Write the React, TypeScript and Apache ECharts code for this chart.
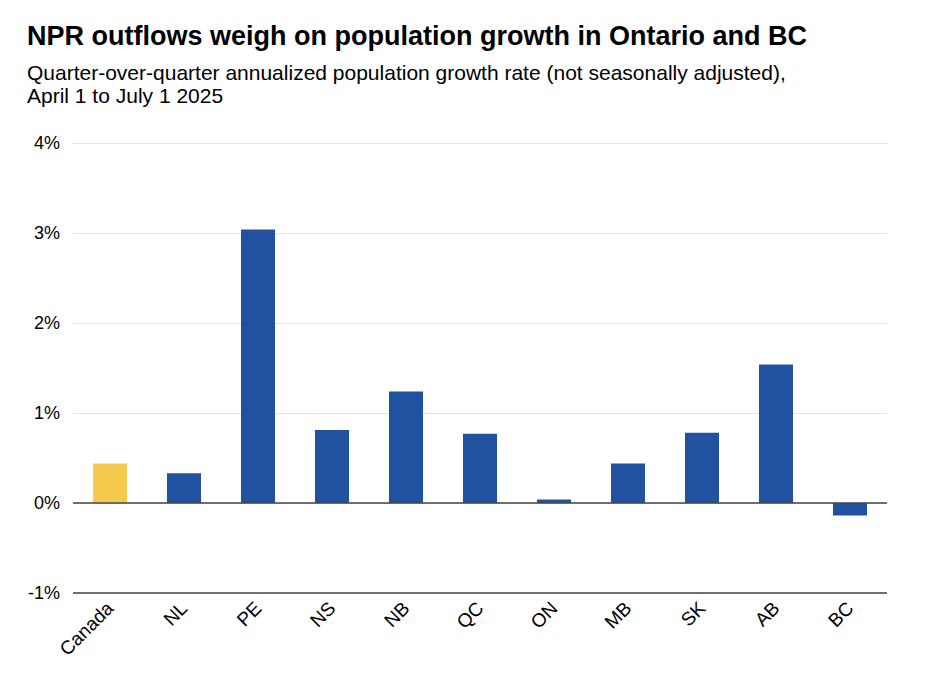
import React, { useEffect, useRef } from "react";
import * as echarts from "echarts";

const categories = ["Canada", "NL", "PE", "NS", "NB", "QC", "ON", "MB", "SK", "AB", "BC"];
const values = [0.44, 0.33, 3.04, 0.81, 1.24, 0.77, 0.04, 0.44, 0.78, 1.54, -0.14];
const highlight = ["Canada"];
const titleText = "NPR outflows weigh on population growth in Ontario and BC";
const subtitleText = "Quarter-over-quarter annualized population growth rate (not seasonally adjusted),\nApril 1 to July 1 2025";

export default function App() {
  const ref = useRef<HTMLDivElement>(null);
  useEffect(() => {
    if (!ref.current) return;
    const chart = echarts.init(ref.current, null, { renderer: "svg" });
    const font = "'Liberation Sans', Arial, sans-serif";
    chart.setOption({
      animation: false,
      backgroundColor: "#ffffff",
      title: {
        text: titleText,
        subtext: subtitleText,
        left: 14,
        top: 9,
        itemGap: 12,
        textStyle: { fontFamily: font, fontSize: 27, fontWeight: "bold", color: "#000" },
        subtextStyle: { fontFamily: font, fontSize: 21, color: "#000", lineHeight: 23 },
      },
      grid: { left: 65, right: 35, top: 135, bottom: 75, containLabel: false },
      xAxis: {
        type: "category",
        data: categories,
        axisLine: { show: false },
        axisTick: { show: false },
        axisLabel: {
          rotate: 45,
          fontFamily: font,
          fontSize: 19,
          color: "#000",
          margin: 12,
          interval: 0,
        },
      },
      yAxis: {
        type: "value",
        min: -1,
        max: 4,
        interval: 1,
        axisLine: { show: false },
        axisTick: { show: false },
        axisLabel: {
          formatter: (v: number) => `${v}%`,
          fontFamily: font,
          fontSize: 18,
          color: "#000",
          margin: 13,
        },
        splitLine: {
          lineStyle: { color: "#e3e3e3", width: 1 },
        },
      },
      series: [
        {
          type: "bar",
          data: values.map((v, i) => ({
            value: v,
            itemStyle: { color: highlight.includes(categories[i]) ? "#f6c94f" : "#2152a2" },
          })),
          barWidth: "46%",
          markLine: {
            silent: true,
            symbol: "none",
            label: { show: false },
            lineStyle: { color: "#444", width: 1.5, type: "solid" },
            data: [{ yAxis: 0 }, { yAxis: -1 }],
          },
        },
      ],
    });
    return () => chart.dispose();
  }, []);
  return <div ref={ref} style={{ width: 914, height: 660 }} />;
}
